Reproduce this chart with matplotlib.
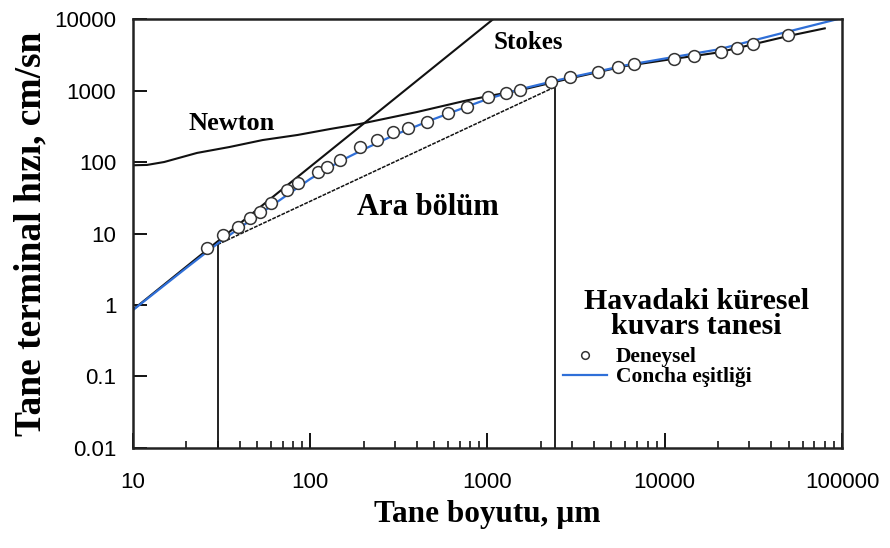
import matplotlib
matplotlib.use("Agg")
import matplotlib.pyplot as plt

# particle size (um) vs terminal velocity (cm/s), quartz spheres in air
deneysel_d = [26, 32, 39, 46, 52, 60, 74, 85, 110, 125, 148, 191, 239, 294,
              358, 458, 602, 771, 1013, 1265, 1536, 2270, 2940, 4180, 5420,
              6680, 11240, 14590, 20700, 25500, 31400, 49500]
deneysel_v = [6.3, 9.5, 12.3, 16.5, 20, 26.7, 40.6, 50.8, 72.4, 85, 107, 162,
              203, 263, 299, 362, 484, 587, 811, 923, 1016, 1315, 1545, 1815,
              2133, 2350, 2760, 3040, 3450, 3930, 4470, 5970]

concha_d = [10, 20, 30, 40, 60, 100, 150, 200, 300, 500, 800, 1000, 1500,
            2500, 4000, 6000, 10000, 20000, 50000, 95000]
concha_v = [0.85, 3.3, 7.2, 12, 24, 58, 105, 150, 240, 400, 620, 760, 1030,
            1400, 1800, 2250, 2800, 3750, 6700, 10000]

stokes_d = [10, 1080]
stokes_v = [0.86, 10000]

newton_d = [10, 12, 15, 23, 35, 54, 85, 130, 190, 400, 770, 1000, 1500,
            3000, 6000, 11000, 20000, 30000, 50000, 80000]
newton_v = [90, 91, 100, 134, 162, 203, 239, 290, 340, 500, 730, 830, 1000,
            1500, 2200, 2750, 3400, 4300, 5800, 7400]

# intermediate region bounds
ara_d = [30, 2400]
ara_v = [7, 1120]

x_ticks = [10, 100, 1000, 10000, 100000]
y_ticks = [0.01, 0.1, 1, 10, 100, 1000, 10000]

serif = "Liberation Serif"
sans = "Liberation Sans"

fig = plt.figure(figsize=(8.9, 5.48), dpi=100)
ax = fig.add_axes([0.1494, 0.1825, 0.7966, 0.7828])
ax.set_xscale("log")
ax.set_yscale("log")
ax.set_xlim(10, 100000)
ax.set_ylim(0.01, 10000)

ax.plot(newton_d, newton_v, color="#111111", lw=1.5)
ax.plot(stokes_d, stokes_v, color="#111111", lw=1.5)
ax.plot(ara_d, ara_v, color="#111111", lw=1.1, ls=(0, (2.5, 0.8)))
ax.vlines(ara_d, [0.01, 0.01], ara_v, color="#111111", lw=1.3)
ax.plot(concha_d, concha_v, color="#2f6fd8", lw=1.6, label="Concha eşitliği")
ax.plot(deneysel_d, deneysel_v, ls="none", marker="o", ms=8.5,
        mfc="white", mec="#333333", mew=1.1, label="Deneysel")

ax.text(36, 350, "Newton", fontfamily=serif, fontweight="bold", fontsize=19,
        ha="center", va="center")
ax.text(1700, 4700, "Stokes", fontfamily=serif, fontweight="bold", fontsize=18,
        ha="center", va="center")
ax.text(460, 23, "Ara bölüm", fontfamily=serif, fontweight="bold", fontsize=22,
        ha="center", va="center")

# legend block: title as text, entries as a frameless legend underneath
ax.text(0.795, 0.312, "Havadaki küresel\nkuvars tanesi", transform=ax.transAxes,
        fontfamily=serif, fontweight="bold", fontsize=21.5, ha="center",
        va="center", linespacing=0.9)
handles, labels = ax.get_legend_handles_labels()
ax.legend(handles[::-1], labels[::-1], loc="upper left",
          bbox_to_anchor=(0.607, 0.235), frameon=False,
          prop={"family": serif, "weight": "bold", "size": 15.5},
          markerscale=0.65, handlelength=2.05, handletextpad=0.4,
          labelspacing=0.0, borderpad=0.0, borderaxespad=0.0)

ax.set_xticks(x_ticks)
ax.set_xticklabels([str(t) for t in x_ticks])
ax.set_yticks(y_ticks)
ax.set_yticklabels(["0.01", "0.1", "1", "10", "100", "1000", "10000"])
ax.yaxis.set_minor_locator(matplotlib.ticker.NullLocator())

for lab in ax.get_xticklabels() + ax.get_yticklabels():
    lab.set_fontfamily(sans)
    lab.set_fontsize(16)

ax.tick_params(axis="x", which="major", direction="in", length=11, width=1.3, pad=17)
ax.tick_params(axis="x", which="minor", direction="in", length=5, width=1.1)
ax.tick_params(axis="y", which="major", direction="in", length=10, width=1.3, pad=12)

for sp in ax.spines.values():
    sp.set_linewidth(1.8)
    sp.set_color("#222222")

ax.set_xlabel("Tane boyutu, µm", fontfamily=serif, fontweight="bold", fontsize=22.5,
              labelpad=5)
ax.set_ylabel("Tane terminal hızı, cm/sn", fontfamily=serif, fontweight="bold",
              fontsize=27, labelpad=4)

fig.savefig("out.png", dpi=100)
